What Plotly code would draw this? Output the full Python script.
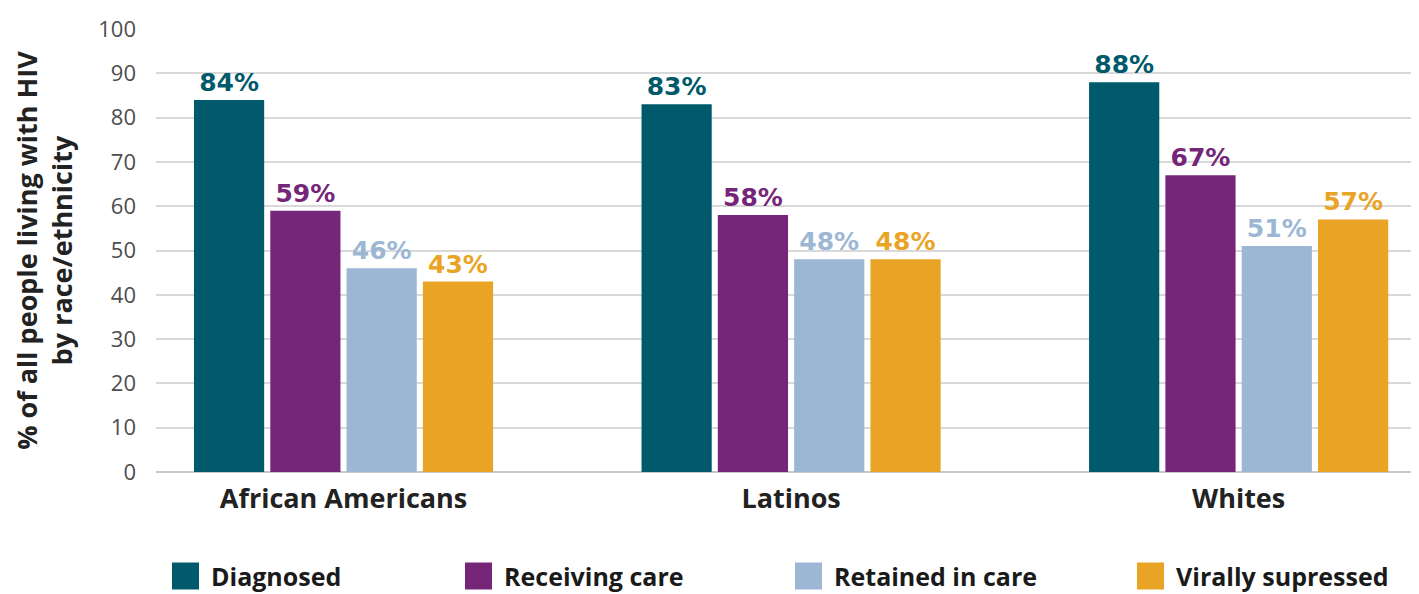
import plotly.graph_objects as go

categories = ["African Americans", "Latinos", "Whites"]
series_names = ["Diagnosed", "Receiving care", "Retained in care", "Virally supressed"]
diagnosed = [84, 83, 88]
receiving = [59, 58, 67]
retained = [46, 48, 51]
suppressed = [43, 48, 57]
y_ticks = [0, 10, 20, 30, 40, 50, 60, 70, 80, 90, 100]

colors = ["#015a6c", "#762679", "#9bb7d4", "#e9a426"]
values = [diagnosed, receiving, retained, suppressed]

# the page body has an 8px margin, so the figure starts at (8, 8) in the window
OFF = 8
W, H = 1419 - OFF, 594 - OFF
L, R, T, B = 156 - OFF, 0, 29 - OFF, 122
pw = W - L - R
ph = H - T - B

fig = go.Figure()
for name, vals, col in zip(series_names, values, colors):
    fig.add_trace(go.Bar(
        x=categories, y=vals, name=name,
        marker=dict(color=col, line=dict(width=0)),
        text=[f"{v}%" for v in vals], textposition="outside",
        textfont=dict(family="DejaVu Sans", size=25, color=col, weight="bold"),
        cliponaxis=False, showlegend=False,
    ))

# custom legend (large square swatches, like the reference)
legend_x = [172, 465, 795, 1137]   # window-pixel left edge of each swatch
legend_y = 576                     # window-pixel centre line
sw = 27
shapes, annotations = [], []
for name, col, px in zip(series_names, colors, legend_x):
    fx = px - OFF
    x0 = (fx - L) / pw
    x1 = (fx + sw - L) / pw
    yc = (H - B - (legend_y - OFF)) / ph
    half = (sw / 2) / ph
    shapes.append(dict(type="rect", xref="paper", yref="paper", x0=x0, x1=x1,
                       y0=yc - half, y1=yc + half, fillcolor=col, line=dict(width=0)))
    annotations.append(dict(xref="paper", yref="paper", x=(fx + sw + 11 - L) / pw, y=yc,
                            xanchor="left", yanchor="middle", showarrow=False, text=name,
                            borderpad=0,
                            font=dict(family="Open Sans", size=25, color="#1a1a1a", weight="bold")))

fig.update_layout(
    width=W, height=H,
    margin=dict(l=L, r=R, t=T, b=B, autoexpand=False),
    paper_bgcolor="white", plot_bgcolor="white",
    barmode="group", bargap=0.318, bargroupgap=0.08,
    showlegend=False,
    shapes=shapes, annotations=annotations,
    xaxis=dict(range=[-0.419, 2.403], showgrid=False, showline=False, ticks="",
               automargin=False, ticklabelstandoff=8,
               tickfont=dict(family="Open Sans", size=27, color="#222222", weight="bold")),
    yaxis=dict(range=[0, 100], tickvals=y_ticks, showgrid=True, gridcolor="#d9d9d9", gridwidth=2,
               zeroline=True, zerolinecolor="#c8c8c8", zerolinewidth=2,
               ticks="", ticklabelstandoff=19, automargin=False,
               tickfont=dict(family="Open Sans", size=22, color="#4d4d4d"),
               title=dict(text="% of all people living with HIV<br>by race/ethnicity", standoff=18,
                          font=dict(family="Open Sans", size=27, color="#222222", weight="bold"))),
)

fig.write_html("out.html")
